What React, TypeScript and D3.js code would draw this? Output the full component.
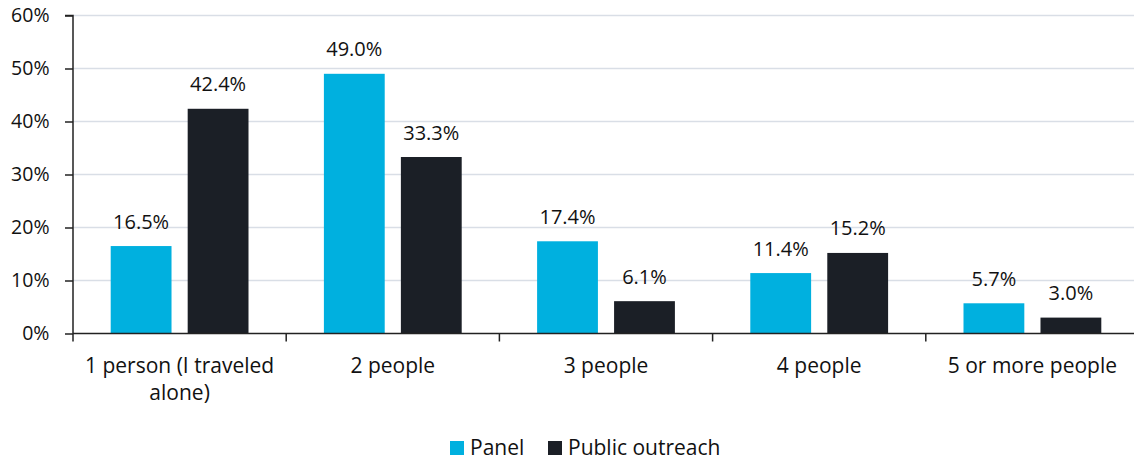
import React from "react";
import * as d3 from "d3";

const categories = ["1 person (I traveled alone)", "2 people", "3 people", "4 people", "5 or more people"];
const categoryLines = [["1 person (I traveled", "alone)"], ["2 people"], ["3 people"], ["4 people"], ["5 or more people"]];
const seriesNames = ["Panel", "Public outreach"];
const panel = [16.5, 49.0, 17.4, 11.4, 5.7];
const publicOutreach = [42.4, 33.3, 6.1, 15.2, 3.0];
const yTicks = [0, 10, 20, 30, 40, 50, 60];
const colors = ["#00B0DF", "#1B1F26"];

const width = 1134;
const height = 460;
const margin = { top: 15.5, right: -5, bottom: 126.5, left: 73 };
const font = "'Open Sans', sans-serif";

export default function App() {
  const ref = React.useRef<SVGSVGElement>(null);

  React.useEffect(() => {
    const svg = d3.select(ref.current);
    svg.selectAll("*").remove();

    const innerW = width - margin.left - margin.right;
    const innerH = height - margin.top - margin.bottom;
    const g = svg.append("g").attr("transform", `translate(${margin.left},${margin.top})`);

    const x = d3.scaleBand().domain(categories).range([0, innerW]).paddingInner(0).paddingOuter(0);
    const x1 = d3.scaleBand().domain(seriesNames).range([37.7, x.bandwidth() - 37.7]).paddingInner(0.21);
    const y = d3.scaleLinear().domain([0, 60]).range([innerH, 0]);

    // grid
    g.append("g")
      .selectAll("line")
      .data(yTicks.filter(t => t > 0))
      .join("line")
      .attr("x1", 0)
      .attr("x2", innerW)
      .attr("y1", d => y(d))
      .attr("y2", d => y(d))
      .attr("stroke", "#D9DEE6")
      .attr("stroke-width", 1.3);

    // bars
    const data = categories.map((c, i) => ({ c, vals: [panel[i], publicOutreach[i]] }));
    const grp = g.selectAll("g.grp").data(data).join("g").attr("class", "grp")
      .attr("transform", d => `translate(${x(d.c)},0)`);

    grp.selectAll("rect")
      .data(d => d.vals.map((v, k) => ({ v, k })))
      .join("rect")
      .attr("x", d => x1(seriesNames[d.k])!)
      .attr("width", x1.bandwidth())
      .attr("y", d => y(d.v))
      .attr("height", d => innerH - y(d.v))
      .attr("fill", d => colors[d.k]);

    grp.selectAll("text.lbl")
      .data(d => d.vals.map((v, k) => ({ v, k })))
      .join("text")
      .attr("class", "lbl")
      .attr("x", d => x1(seriesNames[d.k])! + x1.bandwidth() / 2)
      .attr("y", d => y(d.v) - 17.5)
      .attr("text-anchor", "middle")
      .attr("font-family", font)
      .attr("font-size", 20)
      .attr("fill", "#111")
      .text(d => d.v.toFixed(1) + "%");

    // y axis
    const yAxis = g.append("g").call(d3.axisLeft(y).tickValues(yTicks).tickSize(8).tickPadding(15.5).tickFormat(d => d + "%"));
    yAxis.select(".domain").attr("stroke", "#222").attr("stroke-width", 1.5).attr("d", `M-8,${y(60)}H0V${innerH}`);
    yAxis.selectAll(".tick line").attr("stroke", "#222").attr("stroke-width", 1.5);
    yAxis.selectAll(".tick text").attr("font-family", font).attr("font-size", 19.5).attr("fill", "#111");

    // x axis
    const xAxis = g.append("g").attr("transform", `translate(0,${innerH})`);
    xAxis.append("line").attr("x1", 0).attr("x2", innerW).attr("stroke", "#222").attr("stroke-width", 1.5);
    const bounds = d3.range(categories.length + 1).map(i => (x(categories[i]) ?? x.range()[1]));
    xAxis.selectAll("line.tk").data(bounds).join("line").attr("class", "tk")
      .attr("x1", d => d).attr("x2", d => d).attr("y1", 0).attr("y2", 8)
      .attr("stroke", "#222").attr("stroke-width", 1.5);
    const xl = xAxis.selectAll("text.cat").data(categories).join("text").attr("class", "cat")
      .attr("x", d => x(d)! + x.bandwidth() / 2)
      .attr("y", 39.5)
      .attr("text-anchor", "middle")
      .attr("font-family", font)
      .attr("font-size", 21)
      .attr("fill", "#111");
    xl.selectAll("tspan").data((d, i) => categoryLines[i]).join("tspan")
      .attr("x", function () { return (this.parentNode as SVGTextElement).getAttribute("x"); })
      .attr("dy", (d, i) => (i === 0 ? 0 : 26.5))
      .text(d => d);

    // legend
    const legend = svg.append("g").attr("transform", "translate(450,441)");
    const items = [{ name: seriesNames[0], x: 0 }, { name: seriesNames[1], x: 98 }];
    items.forEach((it, k) => {
      legend.append("rect").attr("x", it.x).attr("y", 0).attr("width", 14).attr("height", 14).attr("fill", colors[k]);
      legend.append("text").attr("x", it.x + 20).attr("y", 14).attr("font-family", font).attr("font-size", 21)
        .attr("fill", "#111").text(it.name);
    });
  }, []);

  return <svg ref={ref} width={width} height={height} style={{ position: "absolute", left: 0, top: 0, background: "#fff" }} />;
}
